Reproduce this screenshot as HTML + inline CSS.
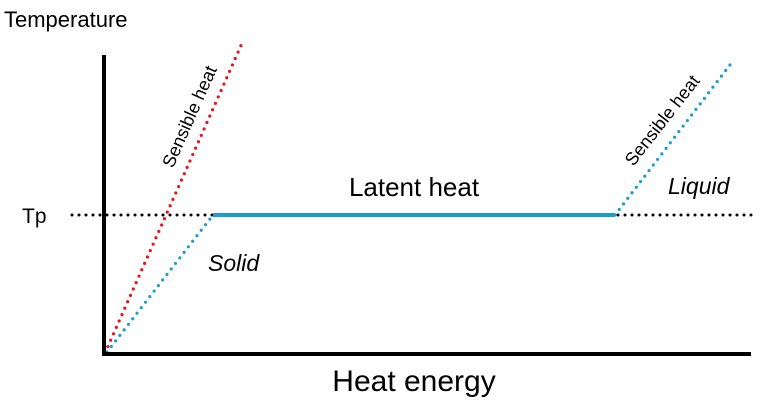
<!DOCTYPE html>
<html><head><style>body{margin:0;background:#fff}</style></head><body>
<svg width="770" height="400" xmlns="http://www.w3.org/2000/svg" font-family="Liberation Sans, sans-serif">
<rect width="770" height="400" fill="#fff"/>
<line x1="72" y1="215" x2="752" y2="215" stroke="#000" stroke-width="3" stroke-dasharray="0 7" stroke-linecap="round"/>
<line x1="105" y1="353" x2="243" y2="41" stroke="#e8141c" stroke-width="3.2" stroke-dasharray="0 7" stroke-linecap="round"/>
<line x1="107" y1="352" x2="213" y2="215" stroke="#1aa0c8" stroke-width="3.2" stroke-dasharray="0 7" stroke-linecap="round"/>
<line x1="213" y1="215" x2="615" y2="215" stroke="#1aa0c8" stroke-width="4"/>
<line x1="615" y1="215" x2="733" y2="61" stroke="#1aa0c8" stroke-width="3.2" stroke-dasharray="0 7" stroke-linecap="round"/>
<line x1="104" y1="55" x2="104" y2="356" stroke="#000" stroke-width="4"/>
<line x1="102" y1="354" x2="751" y2="354" stroke="#000" stroke-width="4"/>
<text x="4" y="27" font-size="22">Temperature</text>
<text x="22" y="223" font-size="21">Tp</text>
<text x="414" y="391" font-size="30" text-anchor="middle">Heat energy</text>
<text x="414" y="196" font-size="26" text-anchor="middle">Latent heat</text>
<text x="208" y="271" font-size="23" font-style="italic">Solid</text>
<text x="668" y="194" font-size="23" font-style="italic">Liquid</text>
<text x="0" y="0" font-size="18" text-anchor="middle" transform="translate(195,119) rotate(-66)">Sensible heat</text>
<text x="0" y="0" font-size="18" text-anchor="middle" transform="translate(667,124) rotate(-52)">Sensible heat</text>
</svg>
</body></html>
